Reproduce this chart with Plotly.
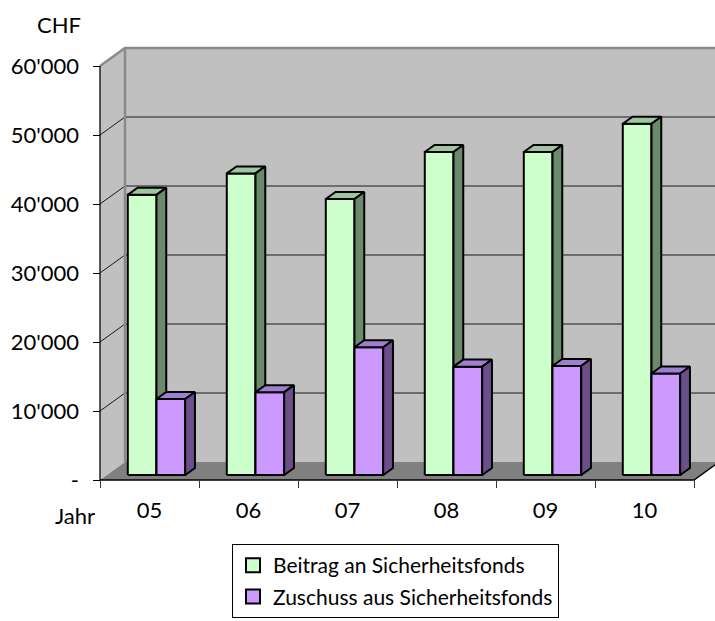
import plotly.graph_objects as go

# ---- data ----
years = ["05", "06", "07", "08", "09", "10"]
beitrag = [40600, 43700, 40000, 46800, 46800, 50900]   # Beitrag an Sicherheitsfonds (CHF)
zuschuss = [11000, 12000, 18500, 15700, 15800, 14700]  # Zuschuss aus Sicherheitsfonds (CHF)
y_tick_vals = [0, 10000, 20000, 30000, 40000, 50000, 60000]
y_tick_text = ["-", "10'000", "20'000", "30'000", "40'000", "50'000", "60'000"]

# ---- layout geometry (pixels) ----
W, H = 715, 621
PX_CAT = 99.0          # pixels per category along the front edge
PX_VAL = 0.0069        # pixels per CHF
AX_X, AX_Y = 100, 480  # front-left corner of the floor
ML = 93                # plot area starts a little left of the axis line
MB = H - 488           # plot area ends a little below the axis line
Y_TOP = 60000

x_lo = -(AX_X - ML) / PX_CAT
x_hi = (W - AX_X) / PX_CAT
y_lo = -((H - MB) - AX_Y) / PX_VAL
y_hi = AX_Y / PX_VAL

# oblique depth of the floor, in data units
DX, DY = 25 / PX_CAT, 18 / PX_VAL
n = len(years)

# bars: front plane and depth as fractions of the floor depth
F_FRONT, F_DEPTH = 0.28, 0.39
BAR_W = 0.29

FONT = "Lato, 'Open Sans', sans-serif"
FS = 22


def px_to_paper(px, py):
    pw, ph = W - ML, H - MB
    return (px - ML) / pw, (H - MB - py) / ph


def poly(xs, ys, fill, line_color="black", line_width=0):
    return go.Scatter(x=xs, y=ys, mode="lines", fill="toself", fillcolor=fill,
                      line=dict(color=line_color, width=line_width),
                      hoverinfo="skip", showlegend=False)


def line(xs, ys, color, width):
    return go.Scatter(x=xs, y=ys, mode="lines", line=dict(color=color, width=width),
                      hoverinfo="skip", showlegend=False)


def bar_faces(values, right):
    ox, oy = F_FRONT * DX, F_FRONT * DY
    bx, by = F_DEPTH * DX, F_DEPTH * DY
    fx, fy, tx, ty, sx, sy = [], [], [], [], [], []
    for i, v in enumerate(values):
        c = i + 0.5 + ox
        xl, xr = (c, c + BAR_W) if right else (c - BAR_W, c)
        b, t = oy, oy + v
        fx += [xl, xr, xr, xl, xl, None]
        fy += [b, b, t, t, b, None]
        tx += [xl, xr, xr + bx, xl + bx, xl, None]
        ty += [t, t, t + by, t + by, t, None]
        sx += [xr, xr + bx, xr + bx, xr, xr, None]
        sy += [b, b + by, t + by, t, b, None]
    return (fx, fy), (tx, ty), (sx, sy)


traces = []

# walls and floor
traces.append(poly([DX, n + DX + 1, n + DX + 1, DX, DX],
                   [DY, DY, Y_TOP + DY, Y_TOP + DY, DY], "#C0C0C0"))
traces.append(poly([0, DX, DX, 0, 0], [0, DY, Y_TOP + DY, Y_TOP, 0], "#C0C0C0"))
traces.append(poly([0, n, n + DX, DX, 0], [0, 0, DY, DY, 0], "#808080"))

# gridlines across the side wall and back wall
gx, gy = [], []
for v in y_tick_vals[1:-1]:
    gx += [0, DX, n + DX + 1, None]
    gy += [v, v + DY, v + DY, None]
traces.append(line(gx, gy, "#1a1a1a", 1))

# wall edges
traces.append(line([DX, DX], [DY, Y_TOP + DY], "#8a8a8a", 2.5))
traces.append(line([0, DX, n + DX + 1], [Y_TOP, Y_TOP + DY, Y_TOP + DY], "#8a8a8a", 2.5))

# axis lines and right floor edge
traces.append(line([0, 0], [0, Y_TOP], "#222222", 1.5))
traces.append(line([0, n, n + DX], [0, 0, DY], "black", 1.3))

# bars (each series: front, top, side)
series = [
    ("Beitrag an Sicherheitsfonds", beitrag, False, "#CCFFCC", "#9FC79F", "#6B8A6B"),
    ("Zuschuss aus Sicherheitsfonds", zuschuss, True, "#CC99FF", "#A07FD0", "#6A4F8A"),
]
for name, vals, right, c_front, c_top, c_side in series:
    front, top, side = bar_faces(vals, right)
    traces.append(poly(*front, c_front, "black", 2))
    traces.append(poly(*top, c_top, "black", 2))
    traces.append(poly(*side, c_side, "black", 2))

# legend entries
for name, vals, right, c_front, c_top, c_side in series:
    traces.append(go.Scatter(x=[None], y=[None], mode="markers", name=name,
                             marker=dict(symbol="square", size=14, color=c_front,
                                         line=dict(color="black", width=2)),
                             legendgroup=name))

fig = go.Figure(traces)

chf_x, chf_y = px_to_paper(59, 24)
jahr_x, jahr_y = px_to_paper(75, 515)
leg_x, _ = px_to_paper(232, 546)

fig.update_layout(
    width=W, height=H, autosize=False,
    margin=dict(l=ML, r=0, t=0, b=MB, pad=0),
    paper_bgcolor="white", plot_bgcolor="white",
    font=dict(family=FONT, size=FS, color="black"),
    xaxis=dict(range=[x_lo, x_hi], showgrid=False, zeroline=False, showline=False,
               tickmode="array", tickvals=[i + 0.5 for i in range(n)], ticktext=years,
               ticks="", ticklabelstandoff=7, tickfont=dict(size=FS),
               minor=dict(tickmode="array", tickvals=list(range(n + 1)), ticks="inside",
                          ticklen=8, tickwidth=1, tickcolor="#333333", showgrid=False),
               fixedrange=True),
    yaxis=dict(range=[y_lo, y_hi], showgrid=False, zeroline=False, showline=False,
               tickmode="array", tickvals=y_tick_vals, ticktext=y_tick_text,
               ticks="inside", ticklen=7, tickwidth=1.2, tickcolor="black",
               ticklabelstandoff=13, tickfont=dict(size=FS), fixedrange=True),
    showlegend=True,
    legend=dict(xref="paper", yref="container",
                x=leg_x, y=1 - 544 / H, xanchor="left", yanchor="top",
                bgcolor="white", bordercolor="black", borderwidth=1,
                traceorder="grouped", tracegroupgap=1,
                font=dict(size=21, family=FONT)),
    annotations=[
        dict(text="CHF", x=chf_x, y=chf_y, xref="paper", yref="paper",
             showarrow=False, xanchor="center", yanchor="middle", font=dict(size=FS)),
        dict(text="Jahr", x=jahr_x, y=jahr_y, xref="paper", yref="paper",
             showarrow=False, xanchor="center", yanchor="middle", font=dict(size=FS)),
    ],
)

fig.write_html("out.html")
